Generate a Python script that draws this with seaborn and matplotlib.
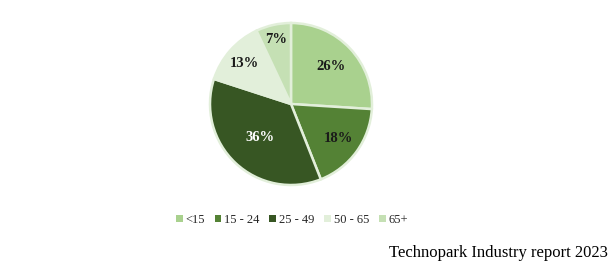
import matplotlib
matplotlib.use("Agg")
import matplotlib.pyplot as plt
import seaborn as sns
import numpy as np
from matplotlib.patches import Patch

categories = ["<15", "15 - 24", "25 - 49", "50 - 65", "65+"]
values = [26, 18, 36, 13, 7]
colors = ["#a9d18e", "#548235", "#375623", "#e2efda", "#c5e0b4"]
label_colors = ["#1a1a1a", "#1a1a1a", "white", "#1a1a1a", "#1a1a1a"]
label_dist = [0.68, 0.72, 0.56, 0.76, 0.82]
caption = "Technopark Industry report 2023"

sns.set_theme(style="white")
plt.rcParams["font.family"] = ["Liberation Serif", "DejaVu Serif"]

fig = plt.figure(figsize=(6.12, 2.73), dpi=100)
ax = fig.add_axes([291/612 - 81/612, 1 - (104 + 81)/273, 162/612, 162/273])
wedges, texts, autotexts = ax.pie(
    values, colors=colors, startangle=90, counterclock=False,
    autopct=lambda p: f"{p:.0f}%", pctdistance=0.7,
    wedgeprops=dict(edgecolor="#e2efda", linewidth=1.8),
    textprops=dict(fontsize=10.5, fontweight="bold"))
for w, t, c, d in zip(wedges, autotexts, label_colors, label_dist):
    t.set_color(c)
    ang = np.deg2rad((w.theta1 + w.theta2) / 2)
    t.set_position((d * np.cos(ang), d * np.sin(ang)))
ax.set_xlim(-1.0, 1.0)
ax.set_ylim(-1.0, 1.0)
ax.set_aspect("equal")

handles = [Patch(facecolor=c, edgecolor="none") for c in colors]
fig.legend(handles, categories, loc="center", bbox_to_anchor=(292/612, 1 - 220/273),
           ncol=5, frameon=False, fontsize=9, handlelength=0.55, handleheight=0.55,
           handletextpad=0.25, columnspacing=0.75)

fig.text(608/612, 1 - 253/273, caption, ha="right", va="center", fontsize=12, color="black")

fig.savefig("out.png", dpi=100)
